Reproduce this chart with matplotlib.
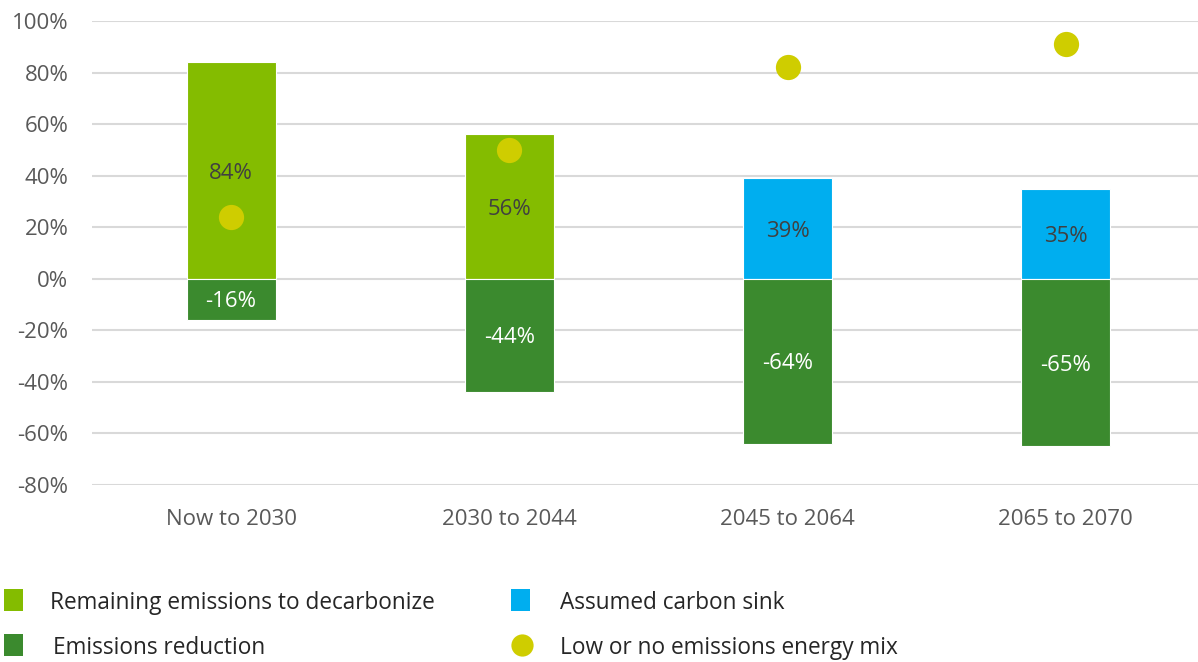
import matplotlib
matplotlib.use("Agg")
import matplotlib.pyplot as plt
from matplotlib.patches import Rectangle
from matplotlib.lines import Line2D

categories = ["Now to 2030", "2030 to 2044", "2045 to 2064", "2065 to 2070"]
positive_values = [84, 56, 39, 35]
positive_kind = ["remaining", "remaining", "sink", "sink"]
negative_values = [-16, -44, -64, -65]
energy_mix = [24, 50, 82, 91]
yticks = [-80, -60, -40, -20, 0, 20, 40, 60, 80, 100]

C_LIGHT = "#84BC00"
C_DARK = "#3B8A2E"
C_BLUE = "#00AEEF"
C_DOT = "#CFCD00"
C_TEXT = "#595959"
C_LABEL = "#404040"

plt.rcParams['font.family'] = ['Open Sans', 'DejaVu Sans']
FS = 16

W, H = 1198, 662
fig = plt.figure(figsize=(W/100, H/100), dpi=100)
ax = fig.add_axes([92/W, 1-485/H, (1205-92)/W, (485-21)/H])
ax.set_xlim(-0.5, 3.5)
ax.set_ylim(-80, 100)

for s in ax.spines.values():
    s.set_visible(False)
ax.set_yticks(yticks)
ax.set_yticklabels([f"{v}%" for v in yticks], fontsize=FS, color=C_TEXT)
ax.tick_params(axis='y', length=0, pad=17)
ax.tick_params(axis='x', length=0, pad=17)
ax.set_xticks(range(len(categories)))
ax.set_xticklabels(categories, fontsize=FS, color=C_TEXT)
ax.grid(axis='y', color="#D9D9D9", linewidth=1.5)
ax.set_axisbelow(True)

x = list(range(len(categories)))
pos_colors = [C_LIGHT if k == "remaining" else C_BLUE for k in positive_kind]
bw = 0.32
ax.bar(x, positive_values, width=bw, color=pos_colors, edgecolor="white", linewidth=0.8, zorder=2)
ax.bar(x, negative_values, width=bw, color=C_DARK, edgecolor="white", linewidth=0.8, zorder=2)
for xi, v in zip(x, positive_values):
    ax.text(xi, v/2, f"{v}%", ha='center', va='center_baseline', fontsize=FS, color=C_LABEL, zorder=3)
for xi, v in zip(x, negative_values):
    ax.text(xi, v/2, f"{v}%", ha='center', va='center_baseline', fontsize=FS, color="white", zorder=3)
ax.scatter(x, energy_mix, s=330, color=C_DOT, zorder=4, linewidths=0)

# legend
for (lx, ly, col, label, tx) in [
    (4, 600, C_LIGHT, "Remaining emissions to decarbonize", 50),
    (4, 645, C_DARK, "Emissions reduction", 53),
    (511, 600, C_BLUE, "Assumed carbon sink", 560),
]:
    fig.patches.append(Rectangle((lx/W, 1-(ly+11)/H), 19/W, 22/H, transform=fig.transFigure,
                                 facecolor=col, edgecolor='none'))
    fig.text(tx/W, 1-ly/H, label, fontsize=16.3, color="#262626", va='center_baseline', ha='left')
fig.lines.append(Line2D([522/W], [1-645/H], marker='o', markersize=16, color=C_DOT,
                        markeredgewidth=0, transform=fig.transFigure))
fig.text(560/W, 1-645/H, "Low or no emissions energy mix", fontsize=16.3, color="#262626",
         va='center_baseline', ha='left')

fig.savefig("out.png", dpi=100)
